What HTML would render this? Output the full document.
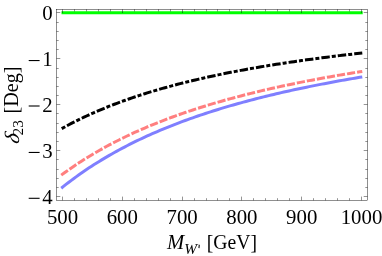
<!DOCTYPE html>
<html><head><meta charset="utf-8"><style>
html,body{margin:0;padding:0;background:#fff;}
svg{display:block;will-change:transform;}
text{font-family:"Liberation Serif",serif;fill:#000;}
</style></head><body>
<svg width="382" height="256" viewBox="0 0 382 256">
<rect width="382" height="256" fill="#fff"/>
<path d="M61.50,12.65 L362.70,12.65" stroke="#00ff00" stroke-width="3" fill="none"/>
<path d="M61.24,188.21 L63.77,186.18 L66.30,184.19 L68.83,182.24 L71.36,180.32 L73.89,178.44 L76.42,176.59 L78.95,174.78 L81.48,173.00 L84.01,171.25 L86.54,169.54 L89.07,167.85 L91.60,166.20 L94.13,164.57 L96.66,162.97 L99.19,161.40 L101.72,159.85 L104.25,158.34 L106.78,156.84 L109.31,155.38 L111.84,153.93 L114.37,152.51 L116.90,151.11 L119.43,149.74 L121.96,148.39 L124.49,147.06 L127.02,145.75 L129.55,144.46 L132.08,143.19 L134.61,141.94 L137.13,140.71 L139.66,139.50 L142.19,138.31 L144.72,137.13 L147.25,135.98 L149.78,134.84 L152.31,133.72 L154.84,132.61 L157.37,131.52 L159.90,130.45 L162.43,129.39 L164.96,128.34 L167.49,127.32 L170.02,126.30 L172.55,125.30 L175.08,124.32 L177.61,123.35 L180.14,122.39 L182.67,121.44 L185.20,120.51 L187.73,119.59 L190.26,118.68 L192.79,117.79 L195.32,116.91 L197.85,116.04 L200.38,115.18 L202.91,114.33 L205.44,113.49 L207.97,112.66 L210.50,111.85 L213.03,111.04 L215.56,110.25 L218.09,109.46 L220.61,108.69 L223.14,107.92 L225.67,107.17 L228.20,106.42 L230.73,105.68 L233.26,104.96 L235.79,104.24 L238.32,103.53 L240.85,102.82 L243.38,102.13 L245.91,101.45 L248.44,100.77 L250.97,100.10 L253.50,99.44 L256.03,98.78 L258.56,98.14 L261.09,97.50 L263.62,96.87 L266.15,96.25 L268.68,95.63 L271.21,95.02 L273.74,94.42 L276.27,93.82 L278.80,93.23 L281.33,92.65 L283.86,92.07 L286.39,91.50 L288.92,90.94 L291.45,90.38 L293.98,89.83 L296.51,89.29 L299.04,88.75 L301.56,88.21 L304.09,87.69 L306.62,87.16 L309.15,86.65 L311.68,86.13 L314.21,85.63 L316.74,85.13 L319.27,84.63 L321.80,84.14 L324.33,83.66 L326.86,83.18 L329.39,82.70 L331.92,82.23 L334.45,81.76 L336.98,81.30 L339.51,80.85 L342.04,80.39 L344.57,79.95 L347.10,79.50 L349.63,79.06 L352.16,78.63 L354.69,78.20 L357.22,77.77 L359.75,77.35 L362.28,76.93" stroke="#7f7fff" stroke-width="3" fill="none"/>
<path d="M61.24,175.16 L63.77,173.30 L66.30,171.47 L68.83,169.68 L71.36,167.92 L73.89,166.19 L76.42,164.49 L78.95,162.83 L81.48,161.19 L84.01,159.58 L86.54,158.00 L89.07,156.45 L91.60,154.92 L94.13,153.42 L96.66,151.95 L99.19,150.50 L101.72,149.07 L104.25,147.67 L106.78,146.29 L109.31,144.93 L111.84,143.60 L114.37,142.28 L116.90,140.99 L119.43,139.72 L121.96,138.46 L124.49,137.23 L127.02,136.02 L129.55,134.82 L132.08,133.64 L134.61,132.49 L137.13,131.34 L139.66,130.22 L142.19,129.11 L144.72,128.02 L147.25,126.94 L149.78,125.88 L152.31,124.84 L154.84,123.81 L157.37,122.79 L159.90,121.79 L162.43,120.81 L164.96,119.84 L167.49,118.88 L170.02,117.93 L172.55,117.00 L175.08,116.08 L177.61,115.17 L180.14,114.28 L182.67,113.39 L185.20,112.52 L187.73,111.66 L190.26,110.81 L192.79,109.98 L195.32,109.15 L197.85,108.33 L200.38,107.53 L202.91,106.73 L205.44,105.95 L207.97,105.17 L210.50,104.41 L213.03,103.65 L215.56,102.91 L218.09,102.17 L220.61,101.44 L223.14,100.72 L225.67,100.01 L228.20,99.31 L230.73,98.62 L233.26,97.94 L235.79,97.26 L238.32,96.59 L240.85,95.93 L243.38,95.28 L245.91,94.63 L248.44,93.99 L250.97,93.36 L253.50,92.74 L256.03,92.12 L258.56,91.51 L261.09,90.91 L263.62,90.32 L266.15,89.73 L268.68,89.15 L271.21,88.57 L273.74,88.00 L276.27,87.44 L278.80,86.88 L281.33,86.33 L283.86,85.78 L286.39,85.25 L288.92,84.71 L291.45,84.18 L293.98,83.66 L296.51,83.15 L299.04,82.64 L301.56,82.13 L304.09,81.63 L306.62,81.13 L309.15,80.64 L311.68,80.16 L314.21,79.68 L316.74,79.20 L319.27,78.73 L321.80,78.27 L324.33,77.81 L326.86,77.35 L329.39,76.90 L331.92,76.45 L334.45,76.01 L336.98,75.57 L339.51,75.13 L342.04,74.70 L344.57,74.28 L347.10,73.86 L349.63,73.44 L352.16,73.02 L354.69,72.61 L357.22,72.21 L359.75,71.81 L362.28,71.41" stroke="#ff7f7f" stroke-width="3" fill="none" stroke-dasharray="8.2 2.0"/>
<path d="M61.24,128.90 L63.77,127.50 L66.30,126.12 L68.83,124.76 L71.36,123.44 L73.89,122.14 L76.42,120.86 L78.95,119.61 L81.48,118.38 L84.01,117.17 L86.54,115.99 L89.07,114.83 L91.60,113.68 L94.13,112.56 L96.66,111.46 L99.19,110.38 L101.72,109.31 L104.25,108.27 L106.78,107.24 L109.31,106.23 L111.84,105.24 L114.37,104.26 L116.90,103.30 L119.43,102.36 L121.96,101.43 L124.49,100.52 L127.02,99.62 L129.55,98.74 L132.08,97.87 L134.61,97.01 L137.13,96.17 L139.66,95.34 L142.19,94.53 L144.72,93.72 L147.25,92.93 L149.78,92.15 L152.31,91.39 L154.84,90.63 L157.37,89.89 L159.90,89.15 L162.43,88.43 L164.96,87.72 L167.49,87.02 L170.02,86.33 L172.55,85.65 L175.08,84.98 L177.61,84.32 L180.14,83.66 L182.67,83.02 L185.20,82.39 L187.73,81.76 L190.26,81.14 L192.79,80.54 L195.32,79.94 L197.85,79.35 L200.38,78.76 L202.91,78.19 L205.44,77.62 L207.97,77.06 L210.50,76.50 L213.03,75.96 L215.56,75.42 L218.09,74.89 L220.61,74.36 L223.14,73.85 L225.67,73.33 L228.20,72.83 L230.73,72.33 L233.26,71.84 L235.79,71.35 L238.32,70.87 L240.85,70.40 L243.38,69.93 L245.91,69.47 L248.44,69.01 L250.97,68.56 L253.50,68.11 L256.03,67.67 L258.56,67.24 L261.09,66.81 L263.62,66.38 L266.15,65.96 L268.68,65.55 L271.21,65.14 L273.74,64.73 L276.27,64.33 L278.80,63.93 L281.33,63.54 L283.86,63.16 L286.39,62.77 L288.92,62.39 L291.45,62.02 L293.98,61.65 L296.51,61.28 L299.04,60.92 L301.56,60.56 L304.09,60.21 L306.62,59.86 L309.15,59.51 L311.68,59.17 L314.21,58.83 L316.74,58.49 L319.27,58.16 L321.80,57.83 L324.33,57.51 L326.86,57.19 L329.39,56.87 L331.92,56.55 L334.45,56.24 L336.98,55.93 L339.51,55.63 L342.04,55.33 L344.57,55.03 L347.10,54.73 L349.63,54.44 L352.16,54.15 L354.69,53.86 L357.22,53.58 L359.75,53.29 L362.28,53.02" stroke="#000" stroke-width="3" fill="none" stroke-dasharray="4.0 2.05 8.45 2.04" stroke-dashoffset="-0.55"/>
<rect x="56.5" y="9.25" width="311.0" height="191.15" fill="none" stroke="#000" stroke-width="0.44"/>
<path d="M62.50,200.4 v-3.8 M62.50,9.25 v3.8 M74.50,200.4 v-2.2 M74.50,9.25 v2.2 M86.50,200.4 v-2.2 M86.50,9.25 v2.2 M98.50,200.4 v-2.2 M98.50,9.25 v2.2 M110.50,200.4 v-2.2 M110.50,9.25 v2.2 M122.50,200.4 v-3.8 M122.50,9.25 v3.8 M134.50,200.4 v-2.2 M134.50,9.25 v2.2 M146.50,200.4 v-2.2 M146.50,9.25 v2.2 M158.50,200.4 v-2.2 M158.50,9.25 v2.2 M170.50,200.4 v-2.2 M170.50,9.25 v2.2 M182.50,200.4 v-3.8 M182.50,9.25 v3.8 M194.50,200.4 v-2.2 M194.50,9.25 v2.2 M206.50,200.4 v-2.2 M206.50,9.25 v2.2 M217.50,200.4 v-2.2 M217.50,9.25 v2.2 M229.50,200.4 v-2.2 M229.50,9.25 v2.2 M241.50,200.4 v-3.8 M241.50,9.25 v3.8 M253.50,200.4 v-2.2 M253.50,9.25 v2.2 M265.50,200.4 v-2.2 M265.50,9.25 v2.2 M277.50,200.4 v-2.2 M277.50,9.25 v2.2 M289.50,200.4 v-2.2 M289.50,9.25 v2.2 M301.50,200.4 v-3.8 M301.50,9.25 v3.8 M313.50,200.4 v-2.2 M313.50,9.25 v2.2 M325.50,200.4 v-2.2 M325.50,9.25 v2.2 M337.50,200.4 v-2.2 M337.50,9.25 v2.2 M349.50,200.4 v-2.2 M349.50,9.25 v2.2 M361.50,200.4 v-3.8 M361.50,9.25 v3.8 M56.5,12.50 h3.8 M367.5,12.50 h-3.8 M56.5,22.50 h2.2 M367.5,22.50 h-2.2 M56.5,31.50 h2.2 M367.5,31.50 h-2.2 M56.5,40.50 h2.2 M367.5,40.50 h-2.2 M56.5,49.50 h2.2 M367.5,49.50 h-2.2 M56.5,58.50 h3.8 M367.5,58.50 h-3.8 M56.5,68.50 h2.2 M367.5,68.50 h-2.2 M56.5,77.50 h2.2 M367.5,77.50 h-2.2 M56.5,86.50 h2.2 M367.5,86.50 h-2.2 M56.5,95.50 h2.2 M367.5,95.50 h-2.2 M56.5,104.50 h3.8 M367.5,104.50 h-3.8 M56.5,113.50 h2.2 M367.5,113.50 h-2.2 M56.5,123.50 h2.2 M367.5,123.50 h-2.2 M56.5,132.50 h2.2 M367.5,132.50 h-2.2 M56.5,141.50 h2.2 M367.5,141.50 h-2.2 M56.5,150.50 h3.8 M367.5,150.50 h-3.8 M56.5,159.50 h2.2 M367.5,159.50 h-2.2 M56.5,169.50 h2.2 M367.5,169.50 h-2.2 M56.5,178.50 h2.2 M367.5,178.50 h-2.2 M56.5,187.50 h2.2 M367.5,187.50 h-2.2 M56.5,196.50 h3.8 M367.5,196.50 h-3.8" fill="none" stroke="#000" stroke-width="0.42"/>
<text x="62.50" y="223.5" text-anchor="middle" font-size="20.8">500</text>
<text x="122.30" y="223.5" text-anchor="middle" font-size="20.8">600</text>
<text x="182.10" y="223.5" text-anchor="middle" font-size="20.8">700</text>
<text x="241.90" y="223.5" text-anchor="middle" font-size="20.8">800</text>
<text x="301.70" y="223.5" text-anchor="middle" font-size="20.8">900</text>
<text x="361.50" y="223.5" text-anchor="middle" font-size="20.8">1000</text>
<text x="52.6" y="19.50" text-anchor="end" font-size="20.8">0</text>
<text x="52.6" y="66.15" text-anchor="end" font-size="20.8">1</text>
<path d="M28.7,60.55 h10.9" stroke="#000" stroke-width="1.1"/>
<text x="52.6" y="111.60" text-anchor="end" font-size="20.8">2</text>
<path d="M28.7,106.00 h10.9" stroke="#000" stroke-width="1.1"/>
<text x="52.6" y="158.05" text-anchor="end" font-size="20.8">3</text>
<path d="M28.7,152.45 h10.9" stroke="#000" stroke-width="1.1"/>
<text x="52.6" y="203.90" text-anchor="end" font-size="20.8">4</text>
<path d="M28.7,198.30 h10.9" stroke="#000" stroke-width="1.1"/>
<text x="166.9" y="248.7" font-size="20.7" font-style="italic">M</text>
<text x="184.3" y="253.5" font-size="15.4" font-style="italic">W</text>
<path d="M199.25,244.8 L198.95,248.1" stroke="#000" stroke-width="1.05"/>
<text x="206.8" y="248.6" font-size="20.2" textLength="50.2" lengthAdjust="spacingAndGlyphs">[GeV]</text>
<g transform="translate(17.8,144) rotate(-90)">
<text x="0" y="0" font-size="20.6" font-style="italic" transform="translate(-0.5,1.0) skewX(-14) scale(1.04,1)">δ</text>
<text x="8.6" y="4.7" font-size="15.3">23</text>
<text x="30.6" y="-0.3" font-size="20.1">[Deg]</text>
</g>
</svg>
</body></html>
